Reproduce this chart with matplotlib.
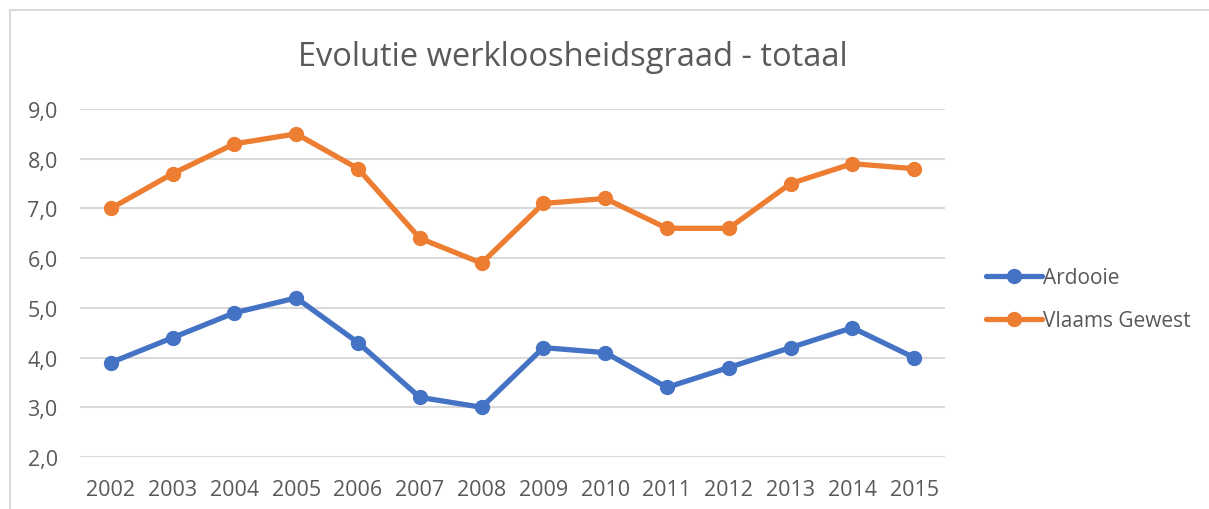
import matplotlib.pyplot as plt
from matplotlib.patches import Rectangle
from matplotlib.ticker import FuncFormatter

# gegevens van de grafiek
jaren = ["2002", "2003", "2004", "2005", "2006", "2007", "2008",
         "2009", "2010", "2011", "2012", "2013", "2014", "2015"]
ardooie = [3.9, 4.4, 4.9, 5.2, 4.3, 3.2, 3.0, 4.2, 4.1, 3.4, 3.8, 4.2, 4.6, 4.0]
vlaams_gewest = [7.0, 7.7, 8.3, 8.5, 7.8, 6.4, 5.9, 7.1, 7.2, 6.6, 6.6, 7.5, 7.9, 7.8]
reeksen = ["Ardooie", "Vlaams Gewest"]

tekst_kleur = "#595959"
plt.rcParams['font.family'] = ['Open Sans', 'DejaVu Sans']

fig = plt.figure(figsize=(12.09, 5.10), dpi=100)
W, H = 1209, 510
ax = fig.add_axes([80 / W, 1 - 458 / H, (945 - 80) / W, (458 - 110) / H])

x = range(len(jaren))
ax.plot(x, ardooie, color="#4472C4", lw=3.8, marker="o", ms=10,
        label=reeksen[0], clip_on=False, solid_capstyle="round")
ax.plot(x, vlaams_gewest, color="#ED7D31", lw=3.8, marker="o", ms=10,
        label=reeksen[1], clip_on=False, solid_capstyle="round")

ax.set_xlim(-0.5, len(jaren) - 0.5)
ax.set_ylim(2, 9)
ax.set_yticks(range(2, 10))
ax.yaxis.set_major_formatter(FuncFormatter(lambda v, p: f"{v:.1f}".replace(".", ",")))
ax.set_xticks(list(x))
ax.set_xticklabels(jaren)

ax.grid(axis="y", color="#D9D9D9", lw=1.5)
ax.set_axisbelow(True)
for s in ax.spines.values():
    s.set_visible(False)
ax.tick_params(length=0, labelsize=15.5, colors=tekst_kleur)
ax.tick_params(axis="y", pad=16)
ax.tick_params(axis="x", pad=16)

fig.text(573 / W, 1 - 57 / H, "Evolutie werkloosheidsgraad - totaal",
         ha="center", va="center", fontsize=23.5, color=tekst_kleur)

fig.legend(loc="center left", bbox_to_anchor=(967 / W, 1 - 300 / H),
           frameon=False, fontsize=15, handlelength=2.7, handletextpad=0.05,
           labelspacing=1.05, labelcolor=tekst_kleur)

# rand van het grafiekgebied (alleen boven en links zichtbaar)
fig.patches.append(Rectangle((10 / W, -0.1), 1.2, 1 - 11 / H + 0.1,
                             transform=fig.transFigure, fill=False,
                             edgecolor="#D9D9D9", lw=1.5))

fig.savefig("out.png", dpi=100)
